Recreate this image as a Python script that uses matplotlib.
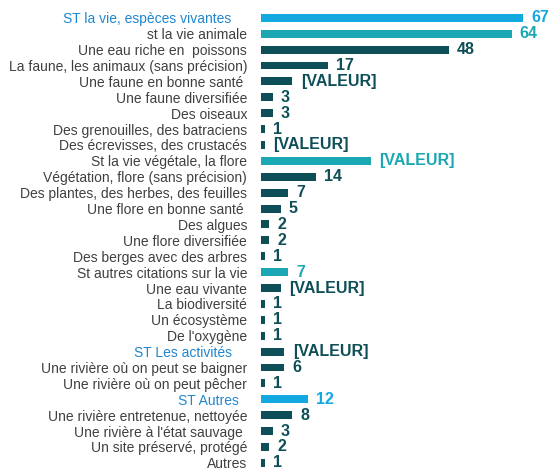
import numpy as np
import matplotlib.pyplot as plt

plt.rcParams['font.family'] = ['Liberation Sans', 'DejaVu Sans']

# categories, top to bottom
labels = [
    "ST la vie, espèces vivantes    ", "st la vie animale", "Une eau riche en  poissons",
    "La faune, les animaux (sans précision)", "Une faune en bonne santé ",
    "Une faune diversifiée", "Des oiseaux", "Des grenouilles, des batraciens",
    "Des écrevisses, des crustacés", "St la vie végétale, la flore",
    "Végétation, flore (sans précision)", "Des plantes, des herbes, des feuilles",
    "Une flore en bonne santé ", "Des algues", "Une flore diversifiée",
    "Des berges avec des arbres", "St autres citations sur la vie", "Une eau vivante",
    "La biodiversité", "Un écosystème", "De l'oxygène", "ST Les activités    ",
    "Une rivière où on peut se baigner", "Une rivière où on peut pêcher", "ST Autres  ",
    "Une rivière entretenue, nettoyée", "Une rivière à l'état sauvage ",
    "Un site préservé, protégé", "Autres",
]
values = [67, 64, 48, 17, 8, 3, 3, 1, 1, 28, 14, 7, 5, 2, 2, 1, 7, 5, 1, 1, 1,
          6, 6, 1, 12, 8, 3, 2, 1]
shown = ["67", "64", "48", "17", "[VALEUR]", "3", "3", "1", "[VALEUR]", "[VALEUR]",
         "14", "7", "5", "2", "2", "1", "7", "[VALEUR]", "1", "1", "1", "[VALEUR]",
         "6", "1", "12", "8", "3", "2", "1"]
# row kind: b = blue subtotal, t = teal subtotal, a = activities subtotal, d = detail
kinds = ["b", "t", "d", "d", "d", "d", "d", "d", "d", "t", "d", "d", "d", "d", "d",
         "d", "t", "d", "d", "d", "d", "a", "d", "d", "b", "d", "d", "d", "d"]

BLUE = "#13a8df"
TEAL = "#1ba7b3"
DARK = "#0e4f57"
LBLUE = "#1f86d0"
GRAY = "#404040"
bar_col = {"b": BLUE, "t": TEAL, "a": DARK, "d": DARK}
val_col = {"b": BLUE, "t": TEAL, "a": DARK, "d": DARK}
lab_col = {"b": LBLUE, "t": GRAY, "a": LBLUE, "d": GRAY}

fig = plt.figure(figsize=(5.49, 4.70), dpi=100)
ax = fig.add_axes([261 / 549, 0, 274 / 549, 1])

y = np.arange(len(labels))
ax.barh(y, values, height=0.5, color=[bar_col[k] for k in kinds])

for i, (v, s, k) in enumerate(zip(values, shown, kinds)):
    ax.annotate(s, xy=(v, i), xytext=(6, 0), textcoords='offset points',
                va='center', ha='left', fontsize=11.5, fontweight='bold',
                color=val_col[k], clip_on=False)

ax.set_yticks(y)
ax.set_yticklabels(labels, fontsize=10)
for t, k in zip(ax.get_yticklabels(), kinds):
    t.set_color(lab_col[k])
ax.tick_params(axis='y', length=0, pad=10)
ax.set_xticks([])
for sp in ax.spines.values():
    sp.set_visible(False)

ax.set_xlim(0, 70)
ax.set_ylim(28.45, -1.12)

plt.savefig("out.png", dpi=100)
